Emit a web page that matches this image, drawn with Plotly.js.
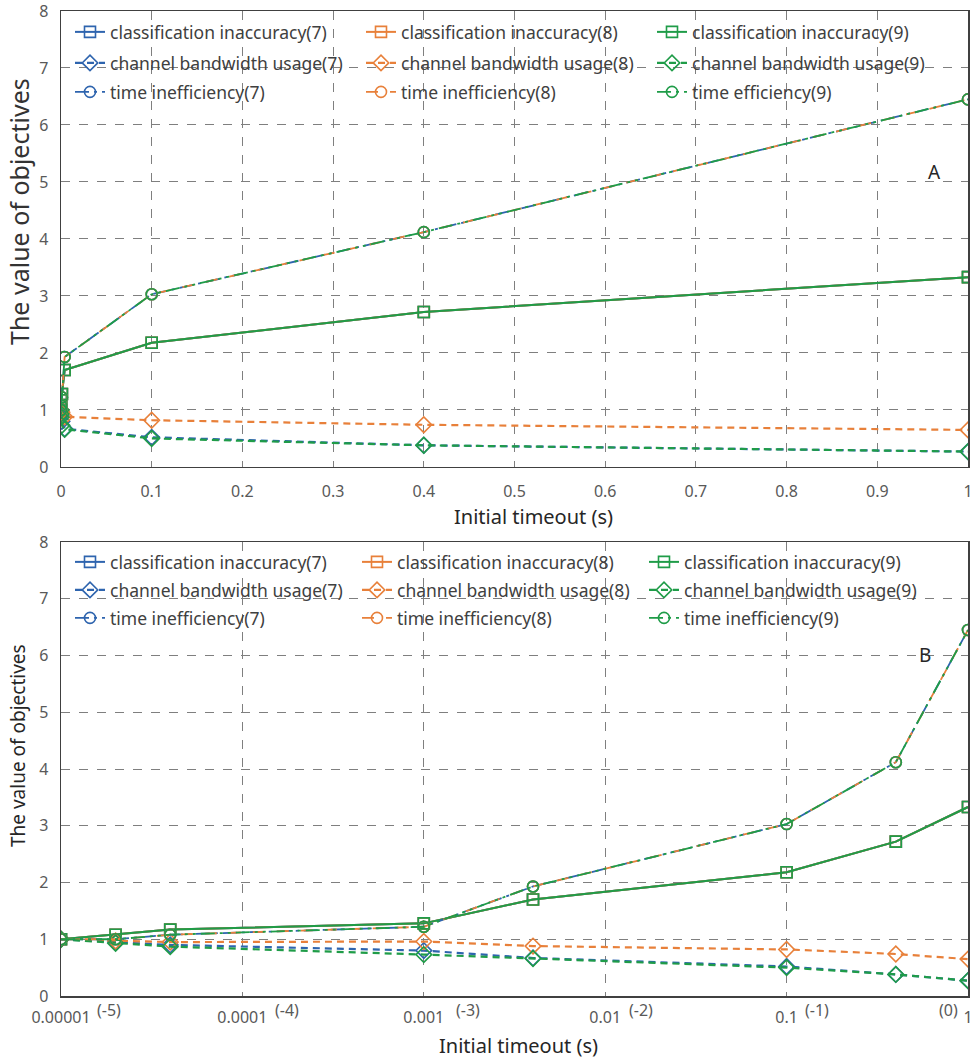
<!DOCTYPE html>
<html>
<head>
<meta charset="utf-8">
<script src="https://cdn.plot.ly/plotly-3.0.1.min.js"></script>
<style>html,body{margin:0;padding:0;background:#fff;}#chart{width:972px;height:1059px;}</style>
</head>
<body>
<div id="chart"></div>
<script>
// ---- data ----
var timeouts = [0.00001, 0.00002, 0.00004, 0.001, 0.004, 0.1, 0.4, 1];
var classInacc7 = [1.00, 1.08, 1.17, 1.28, 1.70, 2.18, 2.72, 3.33];
var classInacc8 = [1.00, 1.08, 1.17, 1.28, 1.70, 2.18, 2.72, 3.33];
var classInacc9 = [1.00, 1.08, 1.17, 1.28, 1.70, 2.18, 2.72, 3.33];
var bandwidth7 = [1.00, 0.95, 0.90, 0.80, 0.67, 0.52, 0.38, 0.27];
var bandwidth8 = [1.00, 0.97, 0.95, 0.96, 0.88, 0.82, 0.74, 0.65];
var bandwidth9 = [1.00, 0.93, 0.87, 0.73, 0.66, 0.50, 0.38, 0.27];
var timeIneff7 = [1.00, 1.00, 1.08, 1.22, 1.93, 3.03, 4.12, 6.45];
var timeIneff8 = [1.00, 1.00, 1.08, 1.22, 1.93, 3.03, 4.12, 6.45];
var timeIneff9 = [1.00, 1.00, 1.08, 1.22, 1.93, 3.03, 4.12, 6.45];

var linTickVals = [0, 0.1, 0.2, 0.3, 0.4, 0.5, 0.6, 0.7, 0.8, 0.9, 1];
var linTickText = ['0', '0.1', '0.2', '0.3', '0.4', '0.5', '0.6', '0.7', '0.8', '0.9', '1'];
var logTickVals = [0.00001, 0.0001, 0.001, 0.01, 0.1, 1];
var logTickText = ['0.00001', '0.0001', '0.001', '0.01', '0.1', '1'];
var logExpLabels = ['(-5)', '(-4)', '(-3)', '(-2)', '(-1)', '(0)'];

var xTitle = 'Initial timeout (s)';
var yTitle = 'The value of objectives';
var namesTop = ['classification inaccuracy(7)', 'classification inaccuracy(8)', 'classification inaccuracy(9)',
  'channel bandwidth usage(7)', 'channel bandwidth usage(8)', 'channel bandwidth usage(9)',
  'time inefficiency(7)', 'time inefficiency(8)', 'time efficiency(9)'];
var namesBottom = ['classification inaccuracy(7)', 'classification inaccuracy(8)', 'classification inaccuracy(9)',
  'channel bandwidth usage(7)', 'channel bandwidth usage(8)', 'channel bandwidth usage(9)',
  'time inefficiency(7)', 'time inefficiency(8)', 'time inefficiency(9)'];

// ---- styles ----
var BLUE = '#2e64ae', ORANGE = '#e8803a', GREEN = '#1f9c48';
var seriesData = [classInacc7, classInacc8, classInacc9, bandwidth7, bandwidth8, bandwidth9, timeIneff7, timeIneff8, timeIneff9];
var colors = [BLUE, ORANGE, GREEN, BLUE, ORANGE, GREEN, BLUE, ORANGE, GREEN];
var symbols = ['square-open', 'square-open', 'square-open', 'diamond-open', 'diamond-open', 'diamond-open', 'circle-open', 'circle-open', 'circle-open'];
var sizes = [11, 11, 11, 12, 12, 12, 11, 11, 11];
var dashes = ['solid', 'solid', 'solid', '7px,5px', '7px,5px', '7px,5px', '14px,5px,3px,5px', '12px,12px', '14px,5px,3px,5px,3px,5px'];
var widths = [2, 2, 2, 2.2, 2.2, 2.2, 1.8, 1.8, 1.8];

var traces = [];
function addSet(names, xa, ya, legs) {
  for (var i = 0; i < 9; i++) {
    traces.push({
      x: timeouts, y: seriesData[i], name: names[i], type: 'scatter', mode: 'lines+markers',
      xaxis: xa, yaxis: ya, legend: legs[Math.floor(i / 3)],
      line: {color: colors[i], width: widths[i], dash: dashes[i]},
      marker: {symbol: symbols[i], size: sizes[i], color: colors[i], line: {color: colors[i], width: 1.6}}
    });
  }
}
addSet(namesTop, 'x', 'y', ['legend', 'legend2', 'legend3']);
addSet(namesBottom, 'x2', 'y2', ['legend4', 'legend5', 'legend6']);

var FONT = 'Noto Sans, Open Sans, sans-serif';
var TICKFONT = {family: FONT, size: 16, color: '#595959'};
var gridStyle = {showgrid: true, gridcolor: '#7f7f7f', griddash: 'dash', gridwidth: 1,
  showline: true, linecolor: '#404040', linewidth: 1.5, mirror: true, zeroline: false,
  ticks: '', tickfont: TICKFONT, ticklabeloverflow: 'allow'};

function merge(a, b) { var o = {}; for (var k in a) o[k] = a[k]; for (var k2 in b) o[k2] = b[k2]; return o; }

var annotations = [
  {xref: 'x domain', yref: 'y domain', x: 0.9636, y: (467 - 172) / 456, xanchor: 'center', yanchor: 'middle',
   text: 'A', showarrow: false, font: {family: FONT, size: 19, color: '#262626'}},
  {xref: 'x2 domain', yref: 'y2 domain', x: 0.9526, y: (996 - 655) / 454, xanchor: 'center', yanchor: 'middle',
   text: 'B', showarrow: false, font: {family: FONT, size: 19, color: '#262626'}},
  // axis titles
  {xref: 'paper', yref: 'y domain', x: (533 - 61) / 907, y: 0, yshift: -50, xanchor: 'center', yanchor: 'middle',
   text: xTitle, showarrow: false, font: {family: FONT, size: 20, color: '#262626'}},
  {xref: 'paper', yref: 'y2 domain', x: (518 - 61) / 907, y: 0, yshift: -49, xanchor: 'center', yanchor: 'middle',
   text: xTitle, showarrow: false, font: {family: FONT, size: 20, color: '#262626'}},
  {xref: 'paper', yref: 'y domain', x: 0, xshift: -42, y: (467 - 212) / 456, xanchor: 'center', yanchor: 'middle',
   textangle: -90, text: yTitle, showarrow: false, font: {family: FONT, size: 25, color: '#333333'}},
  {xref: 'paper', yref: 'y2 domain', x: 0, xshift: -43, y: (996 - 746) / 454, xanchor: 'center', yanchor: 'middle',
   textangle: -90, text: yTitle, showarrow: false, font: {family: FONT, size: 19, color: '#262626'}}
];
var expShifts = [48, 45, 44, 36, 30, -20];
for (var j = 0; j < logTickVals.length; j++) {
  annotations.push({xref: 'x2', yref: 'y2 domain', x: Math.log10(logTickVals[j]), y: 0, yanchor: 'middle',
    xanchor: 'center', yshift: -14, xshift: expShifts[j], text: logExpLabels[j], showarrow: false,
    font: TICKFONT});
}

var legendBase = {orientation: 'h', bgcolor: 'rgba(0,0,0,0)', borderwidth: 0, entrywidth: 246,
  entrywidthmode: 'pixels', itemwidth: 30, traceorder: 'normal',
  font: {family: FONT, size: 17.5, color: '#404040'}, xanchor: 'left', yanchor: 'middle', xref: 'paper', yref: 'paper'};
var LX = (70 - 61) / 907;
function py(p) { return (996 - p) / 985; }

var layout = {
  width: 972, height: 1059,
  margin: {l: 61, r: 4, t: 11, b: 63},
  paper_bgcolor: '#ffffff', plot_bgcolor: '#ffffff',
  font: {family: FONT},
  showlegend: true,
  xaxis: merge(gridStyle, {domain: [0, 1], anchor: 'y', range: [0, 1.00001],
    tickvals: linTickVals, ticktext: linTickText, ticklabelstandoff: 9}),
  yaxis: merge(gridStyle, {domain: [0.5371, 1], anchor: 'x', range: [0, 8], dtick: 1, ticklabelstandoff: 8}),
  xaxis2: merge(gridStyle, {domain: [0, 1], anchor: 'y2', type: 'log', range: [-5.00001, 0.00001],
    tickvals: logTickVals, ticktext: logTickText, ticklabelstandoff: 6}),
  yaxis2: merge(gridStyle, {domain: [0, 0.4609], anchor: 'x2', range: [0, 8], dtick: 1, ticklabelstandoff: 8}),
  legend: merge(legendBase, {x: LX, y: py(32)}),
  legend2: merge(legendBase, {x: LX, y: py(63)}),
  legend3: merge(legendBase, {x: LX, y: py(92)}),
  legend4: merge(legendBase, {x: LX, y: py(562), entrywidth: 242}),
  legend5: merge(legendBase, {x: LX, y: py(590), entrywidth: 242}),
  legend6: merge(legendBase, {x: LX, y: py(618), entrywidth: 242}),
  annotations: annotations
};

Plotly.newPlot('chart', traces, layout, {displayModeBar: false, staticPlot: true});
</script>
</body>
</html>
